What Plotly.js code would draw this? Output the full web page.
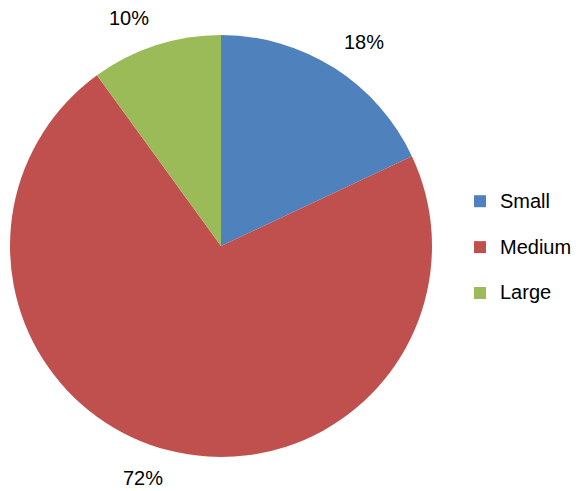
<!DOCTYPE html>
<html>
<head>
<meta charset="utf-8">
<script src="https://cdn.plot.ly/plotly-3.0.1.min.js"></script>
<style>html,body{margin:0;padding:0;background:#fff}#chart{width:583px;height:491px}</style>
</head>
<body>
<div id="chart"></div>
<script>
const categories = ["Small", "Medium", "Large"];
const values = [18, 72, 10];
const colors = ["#4F81BD", "#C0504D", "#9BBB59"];

const W = 583, H = 491;
const cx = 221, cy = 246, R = 211;
const labelDist = 226;
const FONT = '"Liberation Sans", Arial, sans-serif';

const total = values.reduce((a, b) => a + b, 0);
let cum = 0;
const annotations = values.map((v, i) => {
  const mid = (cum + v / 2) / total * 2 * Math.PI;
  cum += v;
  const s = Math.sin(mid), c = Math.cos(mid);
  const px = cx + labelDist * s, py = cy - labelDist * c;
  return {
    xref: 'paper', yref: 'paper',
    x: px / W, y: 1 - py / H,
    xanchor: s >= 0 ? 'left' : 'right',
    yanchor: c >= 0 ? 'bottom' : 'top',
    text: Math.round(v / total * 100) + '%',
    showarrow: false,
    font: {family: FONT, size: 20, color: '#000'}
  };
});

const trace = {
  type: 'pie',
  labels: categories.map(c => '<span style="font-size:20px">' + c + '</span><br> '),
  values: values,
  sort: false,
  direction: 'clockwise',
  rotation: 0,
  marker: {colors: colors, line: {width: 0}},
  textinfo: 'none',
  hoverinfo: 'none',
  domain: {x: [(cx - R) / W, (cx + R) / W], y: [1 - (cy + R) / H, 1 - (cy - R) / H]}
};

const layout = {
  width: W, height: H,
  margin: {l: 0, r: 0, t: 0, b: 0},
  paper_bgcolor: '#fff',
  showlegend: true,
  legend: {
    x: 460 / W, xanchor: 'left',
    y: 1 - 184 / H, yanchor: 'top',
    valign: 'top',
    font: {family: FONT, size: 16.5, color: '#000'},
    bgcolor: 'rgba(0,0,0,0)'
  },
  annotations: annotations,
  font: {family: FONT}
};

Plotly.newPlot('chart', [trace], layout, {displayModeBar: false, staticPlot: true});
</script>
</body>
</html>
